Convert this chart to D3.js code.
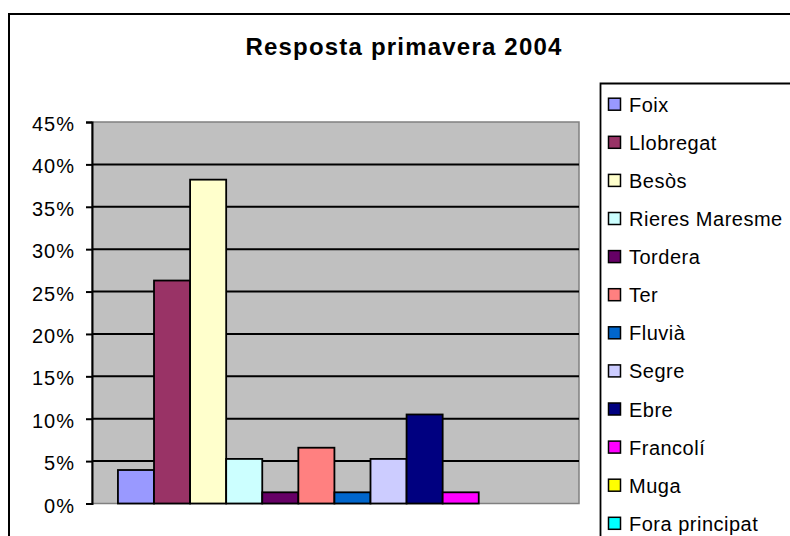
<!DOCTYPE html>
<html>
<head>
<meta charset="utf-8">
<script src="https://cdn.jsdelivr.net/npm/d3@7"></script>
<style>
  body { margin: 0; background: #fff; }
  text { font-family: "Liberation Sans", Arial, sans-serif; fill: #000; }
</style>
</head>
<body>
<div id="container"></div>
<script>
let rivers = ["Foix","Llobregat","Besòs","Rieres Maresme","Tordera","Ter","Fluvià","Segre","Ebre","Francolí","Muga","Fora principat"];
let values = [0.0395,0.263,0.382,0.0526,0.0132,0.0658,0.0132,0.0526,0.105,0.0132,0,0];
let colors = ["#9999FF","#993366","#FFFFCC","#CCFFFF","#660066","#FF8080","#0066CC","#CCCCFF","#000080","#FF00FF","#FFFF00","#00FFFF"];
let yTicks = [0,0.05,0.1,0.15,0.2,0.25,0.3,0.35,0.4,0.45];
let title = "Resposta primavera 2004";

let width = 790, height = 536;
let plotLeft = 92, plotRight = 579, plotTop = 122, plotBottom = 503.5;

const svg = d3.select("#container")
              .append("svg")
              .attr("width",width)
              .attr("height",height);

// chart frame
svg.append("path")
   .attr("d","M9,540 V14 H792")
   .attr("fill","none")
   .attr("stroke","#000")
   .attr("stroke-width",2);

svg.append("text")
   .attr("x",404)
   .attr("y",55)
   .attr("text-anchor","middle")
   .style("font-weight","bold")
   .style("font-size","24px")
   .style("letter-spacing","1.2px")
   .text(title);

// plot area
svg.append("rect")
   .attr("x",plotLeft)
   .attr("y",plotTop)
   .attr("width",plotRight-plotLeft)
   .attr("height",plotBottom-plotTop)
   .attr("fill","#C0C0C0")
   .attr("stroke","#808080")
   .attr("stroke-width",1.5);

const yScale = d3.scaleLinear()
                 .domain([0,0.45])
                 .range([plotBottom,plotTop]);

svg.selectAll(".grid")
   .data(yTicks.filter((d) => d > 0 && d < 0.45))
   .enter()
   .append("line")
   .attr("class","grid")
   .attr("x1",plotLeft)
   .attr("x2",plotRight)
   .attr("y1",(d) => yScale(d))
   .attr("y2",(d) => yScale(d))
   .attr("stroke","#000")
   .attr("stroke-width",2);

const yAxis = d3.axisLeft(yScale)
                .tickValues(yTicks)
                .tickFormat(d3.format(".0%"))
                .tickSize(6)
                .tickPadding(11);

const gy = svg.append("g")
   .attr("transform","translate(" + plotLeft + ",0)")
   .call(yAxis);

gy.select(".domain").attr("stroke","#000").attr("stroke-width",2);
gy.selectAll(".tick line").attr("stroke","#000").attr("stroke-width",2);
gy.selectAll(".tick text")
  .style("font-size","20px")
  .style("letter-spacing","1px")
  .style("font-family","'Liberation Sans', Arial, sans-serif")
  .attr("fill","#000")
  .attr("dy","0.43em");

// bars
const x0 = d3.scaleBand()
             .domain(["2004"])
             .range([plotLeft,plotRight])
             .paddingOuter(0.0624)
             .align(0.48);

const x1 = d3.scaleBand()
             .domain(rivers)
             .range([0,x0.bandwidth()]);

svg.selectAll(".bar")
   .data(rivers)
   .enter()
   .append("rect")
   .attr("class","bar")
   .attr("x",(d) => x0("2004") + x1(d))
   .attr("y",(d,i) => yScale(values[i]))
   .attr("width",x1.bandwidth())
   .attr("height",(d,i) => yScale(0) - yScale(values[i]))
   .attr("fill",(d,i) => colors[i])
   .attr("stroke","#000")
   .attr("stroke-width",(d,i) => values[i] > 0 ? 1.8 : 0);

// legend
svg.append("path")
   .attr("d","M600.5,540 V83.5 H792")
   .attr("fill","#fff")
   .attr("stroke","#000")
   .attr("stroke-width",1.8);

const legend = svg.selectAll(".legend")
   .data(rivers)
   .enter()
   .append("g")
   .attr("class","legend")
   .attr("transform",(d,i) => "translate(608," + (111.7 + 38.1*i) + ")");

legend.append("rect")
      .attr("x",0.5)
      .attr("y",-13.5)
      .attr("width",12)
      .attr("height",12)
      .attr("fill",(d,i) => colors[i])
      .attr("stroke","#000")
      .attr("stroke-width",1.5);

legend.append("text")
      .attr("x",21)
      .attr("y",0)
      .style("font-size","20px")
      .style("letter-spacing","0.5px")
      .text((d) => d);
</script>
</body>
</html>
